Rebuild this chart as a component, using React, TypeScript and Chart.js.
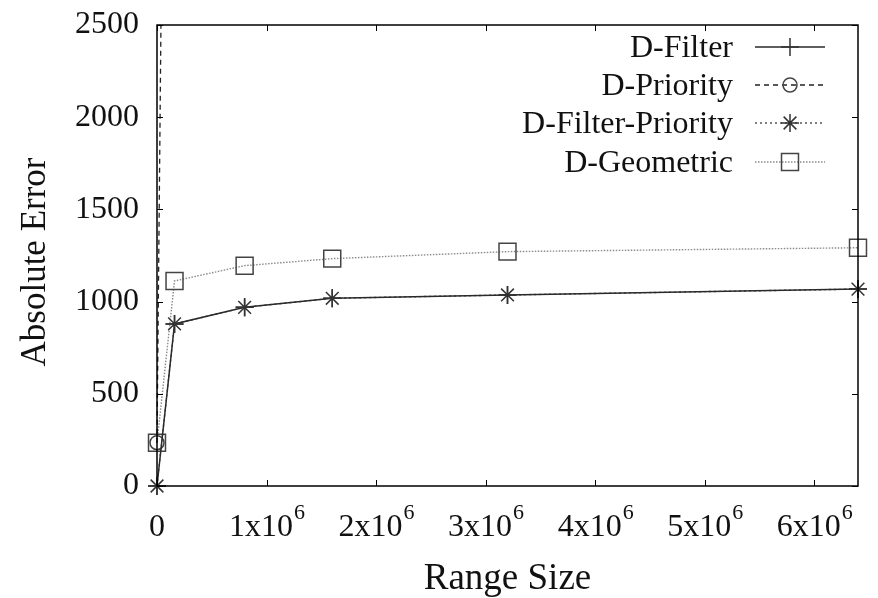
import React, { useEffect, useRef } from 'react';
import { Chart, registerables } from 'chart.js';

Chart.register(...registerables);

const rangeSizes = [0, 160000, 800000, 1600000, 3200000, 6400000];
const dFilter = [0, 879, 969, 1018, 1036, 1068];
const dPriority = [235, 10300, 11000, 11500, 12000, 12500];
const dFilterPriority = [0, 879, 969, 1018, 1036, 1068];
const dGeometric = [235, 1112, 1195, 1233, 1271, 1292];

const seriesNames = ['D-Filter', 'D-Priority', 'D-Filter-Priority', 'D-Geometric'];
const xTickValues = [0, 1000000, 2000000, 3000000, 4000000, 5000000, 6000000];
const xTickMantissas = ['0', '1x10', '2x10', '3x10', '4x10', '5x10', '6x10'];
const xTickExponent = '6';
const yTickValues = [0, 500, 1000, 1500, 2000, 2500];
const xTitle = 'Range Size';
const yTitle = 'Absolute Error';

const FONT = "'Liberation Serif', 'Times New Roman', serif";

type Style = {
  color: string;
  dash: number[];
  width: number;
  point: string;
  radius: number;
  markColor: string;
};

const styles: Style[] = [
  { color: '#2a2a2a', dash: [], width: 1.5, point: 'cross', radius: 9, markColor: '#333' },
  { color: '#222', dash: [5, 4], width: 1.3, point: 'circle', radius: 7, markColor: '#444' },
  { color: '#555', dash: [2, 3], width: 1.4, point: 'star', radius: 9, markColor: '#333' },
  { color: '#8a8a8a', dash: [1.5, 1.5], width: 1.4, point: 'rect', radius: 12, markColor: '#444' },
];

function drawMarker(ctx: CanvasRenderingContext2D, kind: string, x: number, y: number, r: number) {
  ctx.beginPath();
  if (kind === 'cross') {
    ctx.moveTo(x - r, y); ctx.lineTo(x + r, y);
    ctx.moveTo(x, y - r); ctx.lineTo(x, y + r);
  } else if (kind === 'circle') {
    ctx.arc(x, y, r, 0, Math.PI * 2);
  } else if (kind === 'star') {
    ctx.moveTo(x - r, y); ctx.lineTo(x + r, y);
    ctx.moveTo(x, y - r); ctx.lineTo(x, y + r);
    const d = r * Math.SQRT1_2;
    ctx.moveTo(x - d, y - d); ctx.lineTo(x + d, y + d);
    ctx.moveTo(x - d, y + d); ctx.lineTo(x + d, y - d);
  } else if (kind === 'rect') {
    const s = r * Math.SQRT1_2;
    ctx.rect(x - s, y - s, 2 * s, 2 * s);
  }
  ctx.stroke();
}

const decorPlugin = {
  id: 'decor',
  afterDraw(chart: any) {
    const ctx: CanvasRenderingContext2D = chart.ctx;
    const area = chart.chartArea;
    const xs = chart.scales.x;
    const ys = chart.scales.y;
    ctx.save();
    // frame
    ctx.strokeStyle = '#000';
    ctx.lineWidth = 1.5;
    ctx.setLineDash([]);
    ctx.strokeRect(area.left, area.top, area.right - area.left, area.bottom - area.top);
    // tick marks (inward, mirrored)
    ctx.lineWidth = 1;
    const tl = 6;
    ctx.beginPath();
    for (const v of yTickValues) {
      const py = Math.round(ys.getPixelForValue(v)) + 0.5;
      ctx.moveTo(area.left, py); ctx.lineTo(area.left + tl, py);
      ctx.moveTo(area.right, py); ctx.lineTo(area.right - tl, py);
    }
    for (const v of xTickValues) {
      const px = Math.round(xs.getPixelForValue(v)) + 0.5;
      ctx.moveTo(px, area.bottom); ctx.lineTo(px, area.bottom - tl);
      ctx.moveTo(px, area.top); ctx.lineTo(px, area.top + tl);
    }
    ctx.stroke();
    // x tick labels with superscript
    ctx.fillStyle = '#111';
    ctx.textBaseline = 'alphabetic';
    xTickValues.forEach((v, i) => {
      const px = xs.getPixelForValue(v);
      const main = xTickMantissas[i];
      ctx.font = `32px ${FONT}`;
      const mw = ctx.measureText(main).width;
      if (i === 0) {
        ctx.textAlign = 'center';
        ctx.fillText(main, px, 536);
        return;
      }
      ctx.font = `22px ${FONT}`;
      const ew = ctx.measureText(xTickExponent).width;
      const start = px - (mw + ew) / 2;
      ctx.textAlign = 'left';
      ctx.font = `32px ${FONT}`;
      ctx.fillText(main, start, 536);
      ctx.font = `22px ${FONT}`;
      ctx.fillText(xTickExponent, start + mw + 1, 519);
    });
    // axis titles
    ctx.font = `37px ${FONT}`;
    ctx.textAlign = 'center';
    ctx.fillText(xTitle, (area.left + area.right) / 2, 589);
    ctx.save();
    ctx.translate(45, 262);
    ctx.rotate(-Math.PI / 2);
    ctx.font = `35px ${FONT}`;
    ctx.fillText(yTitle, 0, 0);
    ctx.restore();
    // legend
    const rowsY = [47, 85, 123, 162];
    seriesNames.forEach((name, i) => {
      const st = styles[i];
      const y = rowsY[i];
      ctx.font = `32px ${FONT}`;
      ctx.textAlign = 'right';
      ctx.textBaseline = 'middle';
      ctx.fillStyle = '#111';
      ctx.fillText(name, 733, y + 2);
      ctx.strokeStyle = st.color;
      ctx.lineWidth = st.width;
      ctx.setLineDash(st.dash);
      ctx.beginPath();
      ctx.moveTo(755, y); ctx.lineTo(825, y);
      ctx.stroke();
      ctx.setLineDash([]);
      ctx.strokeStyle = st.markColor;
      ctx.lineWidth = 1.5;
      drawMarker(ctx, st.point, 790, y, st.radius);
    });
    ctx.restore();
  },
};

export default function App() {
  const ref = useRef<HTMLCanvasElement | null>(null);
  useEffect(() => {
    if (!ref.current) return;
    const series = [dFilter, dPriority, dFilterPriority, dGeometric];
    const chart = new Chart(ref.current, {
      type: 'line',
      data: {
        datasets: series.map((vals, i) => ({
          label: seriesNames[i],
          data: vals.map((v, j) => ({ x: rangeSizes[j], y: v })),
          borderColor: styles[i].color,
          borderDash: styles[i].dash,
          borderWidth: styles[i].width,
          pointStyle: styles[i].point as any,
          pointRadius: styles[i].radius,
          pointBorderColor: styles[i].markColor,
          pointBackgroundColor: 'rgba(0,0,0,0)',
          pointBorderWidth: 1.5,
          fill: false,
          tension: 0,
          clip: { left: 20, right: 20, top: 0, bottom: 20 } as any,
        })),
      },
      options: {
        responsive: false,
        animation: false,
        devicePixelRatio: 1,
        layout: { padding: { top: 25, right: 20, left: 0, bottom: 0 } },
        plugins: { legend: { display: false }, tooltip: { enabled: false } },
        scales: {
          x: {
            type: 'linear',
            min: 0,
            max: 6400000,
            grid: { display: false, drawTicks: false },
            border: { display: false },
            ticks: { display: false },
            afterFit: (s: any) => {
              s.height = 112;
              s.paddingLeft = 0;
              s.paddingRight = 0;
            },
          },
          y: {
            type: 'linear',
            min: 0,
            max: 2500,
            grid: { display: false, drawTicks: false },
            border: { display: false },
            ticks: {
              stepSize: 500,
              padding: 18,
              color: '#111',
              font: { family: FONT, size: 32 },
              callback: (v: any) => String(v),
            },
            afterFit: (s: any) => {
              s.width = 157;
              s.paddingTop = 0;
              s.paddingBottom = 0;
            },
          },
        },
      },
      plugins: [decorPlugin],
    });
    return () => chart.destroy();
  }, []);
  return (
    <div style={{ position: 'fixed', left: 0, top: 0, width: 878, height: 598, background: '#fff' }}>
      <canvas ref={ref} width={878} height={598} style={{ display: 'block' }} />
    </div>
  );
}
